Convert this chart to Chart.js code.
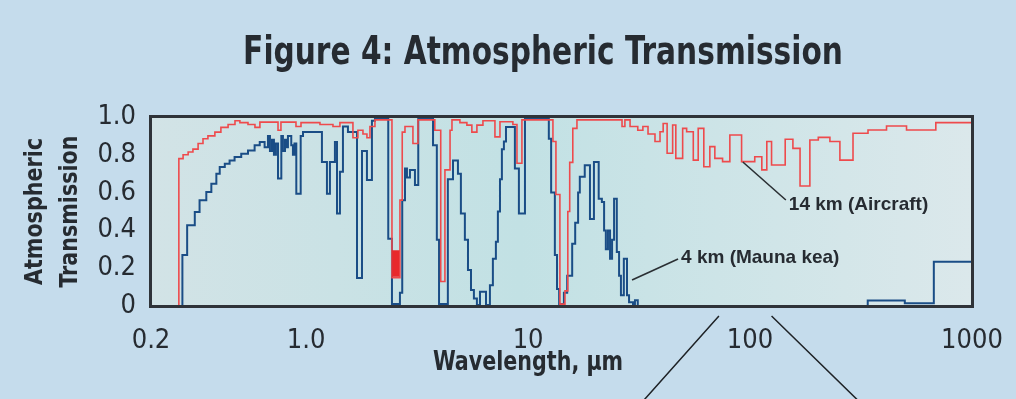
<!DOCTYPE html>
<html>
<head>
<meta charset="utf-8">
<script src="https://cdn.jsdelivr.net/npm/chart.js@4.4.0/dist/chart.umd.min.js"></script>
<style>
  html, body { margin: 0; padding: 0; background: #c5dcec; }
  #wrap { width: 1016px; height: 399px; }
</style>
</head>
<body>
<div id="wrap"><canvas id="chart" width="1016" height="399"></canvas></div>
<script>
// wavelengths (um) where each step starts, and the transmission on that step
const redWave = [0.267, 0.267, 0.279, 0.294, 0.309, 0.326, 0.343, 0.361, 0.388, 0.413, 0.445, 0.478, 0.503, 0.547, 0.588, 0.619, 0.747, 0.770, 0.900, 0.948, 1.154, 1.321, 1.420, 1.625, 1.711, 1.803, 1.879, 1.939, 2.042, 2.436, 2.646, 2.71, 2.788, 3.028, 3.19, 3.80, 4.04, 4.22, 4.45, 4.54, 4.93, 5.30, 5.58, 5.88, 6.26, 7.09, 7.47, 8.54, 8.91, 9.38, 12.94, 13.35, 13.91, 14.66, 15.1, 15.4, 15.9, 16.6, 26.5, 27.3, 28.8, 31.2, 32.9, 34.7, 37.3, 39.3, 40.6, 42.3, 44.8, 46.3, 49.7, 51.8, 55.5, 58.4, 61.9, 65.9, 69.4, 75.2, 81.1, 91.6, 105, 113, 119, 125, 144, 156, 168, 186, 203, 229, 254, 291, 340, 412, 507, 687, 1000];
const redTrans = [0, 0.78, 0.80, 0.815, 0.83, 0.86, 0.885, 0.90, 0.92, 0.945, 0.96, 0.98, 0.97, 0.96, 0.945, 0.973, 0.93, 0.973, 0.95, 0.97, 0.96, 0.95, 0.97, 0.89, 0.93, 0.91, 0.89, 0.95, 0.985, 0.15, 0.56, 0.92, 0.95, 0.86, 0.985, 0.93, 0.13, 0.72, 0.93, 0.985, 0.97, 0.957, 0.92, 0.957, 0.98, 0.895, 0.975, 0.96, 0.755, 0.985, 0.87, 0.59, 0.01, 0.08, 0.5, 0.76, 0.94, 0.985, 0.95, 0.985, 0.95, 0.93, 0.95, 0.91, 0.87, 0.922, 0.966, 0.808, 0.958, 0.781, 0.94, 0.922, 0.772, 0.94, 0.737, 0.843, 0.781, 0.764, 0.905, 0.764, 0.79, 0.72, 0.87, 0.746, 0.882, 0.834, 0.635, 0.878, 0.892, 0.87, 0.772, 0.914, 0.931, 0.952, 0.931, 0.97, 0.97];

// the solid red patch inside the 2.5 um water band
const redPatchWave = [2.44, 2.64];
const redPatchTop = [0.295, 0.295];
const redPatchBottom = 0.155;

const blueWave = [0.277, 0.277, 0.291, 0.315, 0.331, 0.355, 0.374, 0.394, 0.408, 0.430, 0.452, 0.476, 0.510, 0.547, 0.586, 0.618, 0.650, 0.673, 0.687, 0.702, 0.716, 0.731, 0.747, 0.773, 0.786, 0.803, 0.820, 0.828, 0.857, 0.872, 0.886, 0.903, 0.945, 0.968, 1.178, 1.241, 1.280, 1.348, 1.377, 1.420, 1.465, 1.543, 1.695, 1.785, 1.879, 1.979, 2.042, 2.344, 2.436, 2.646, 2.710, 2.788, 2.846, 2.936, 3.092, 3.20, 3.73, 3.88, 3.97, 4.35, 4.59, 4.83, 4.98, 5.19, 5.36, 5.53, 5.70, 5.88, 6.07, 6.46, 6.73, 6.94, 7.16, 7.31, 7.47, 7.62, 7.78, 7.95, 8.72, 9.09, 9.68, 12.4, 12.7, 13.2, 13.5, 13.8, 14.5, 15.0, 15.8, 16.3, 16.8, 17.1, 18.0, 19.0, 19.8, 20.8, 21.5, 22.0, 22.4, 22.9, 23.4, 23.9, 24.4, 25.1, 25.7, 26.2, 27.0, 27.9, 28.5, 29.7, 30.3, 31.2, 339, 498, 673, 1000];
const blueTrans = [0, 0.27, 0.427, 0.497, 0.56, 0.603, 0.647, 0.70, 0.735, 0.753, 0.77, 0.788, 0.805, 0.823, 0.85, 0.868, 0.84, 0.90, 0.82, 0.88, 0.80, 0.86, 0.674, 0.90, 0.82, 0.88, 0.84, 0.90, 0.85, 0.80, 0.86, 0.594, 0.90, 0.92, 0.762, 0.594, 0.762, 0.868, 0.49, 0.71, 0.95, 0.92, 0.148, 0.82, 0.667, 0.98, 0.99, 0.356, 0.01, 0.07, 0.56, 0.727, 0.68, 0.72, 0.64, 0.99, 0.85, 0.35, 0.01, 0.67, 0.77, 0.70, 0.49, 0.35, 0.19, 0.085, 0.04, 0.005, 0.075, 0.005, 0.11, 0.25, 0.34, 0.50, 0.67, 0.83, 0.87, 0.947, 0.727, 0.49, 0.99, 0.885, 0.60, 0.27, 0.09, 0.01, 0.07, 0.16, 0.33, 0.44, 0.60, 0.684, 0.745, 0.46, 0.762, 0.568, 0.55, 0.40, 0.30, 0.40, 0.25, 0.35, 0.568, 0.286, 0.16, 0.057, 0.25, 0.057, 0.02, 0.005, 0.03, 0, 0.029, 0.014, 0.234, 0.234];

const xTickValues = [0.2, 1, 10, 100, 1000];
const xTickLabels = ['0.2', '1.0', '10', '100', '1000'];
const yTickLabels = ['0', '0.2', '0.4', '0.6', '0.8', '1.0'];

const seriesNames = ['14 km (Aircraft)', '4 km (Mauna kea)'];
// where the leader line of each label touches its curve (wavelength, transmission)
const labelAnchorWave = [92.8, 29.4];
const labelAnchorTrans = [0.762, 0.138];

const NARROW = '"DejaVu Sans Condensed", "Liberation Sans Narrow", sans-serif';
const TEXT = '#262b31';
const RED = '#ee4a4c';
const BLUE = '#1a4d86';

const toPoints = (w, t) => w.map((x, i) => ({ x: x, y: t[i] }));

// draws text squeezed horizontally, the original uses a condensed face
function squeezed(ctx, txt, x, y, sx) {
    ctx.save();
    ctx.translate(x, y);
    ctx.scale(sx, 1);
    ctx.fillText(txt, 0, 0);
    ctx.restore();
}

// page + plot backgrounds
const backdrop = {
    id: 'backdrop',
    beforeDraw(chart) {
        const { ctx, chartArea: a } = chart;
        ctx.save();
        ctx.fillStyle = '#c5dcec';
        ctx.fillRect(0, 0, chart.width, chart.height);
        const g = ctx.createLinearGradient(a.left, 0, a.right, 0);
        g.addColorStop(0, '#d2e3e6');
        g.addColorStop(0.45, '#c2e1e4');
        g.addColorStop(1, '#dbe8eb');
        ctx.fillStyle = g;
        ctx.fillRect(a.left, a.top, a.right - a.left, a.bottom - a.top);
        ctx.restore();
    }
};

// frame, titles, labels and the zoom lines under the axis
const decorations = {
    id: 'decorations',
    afterDatasetsDraw(chart) {
        const { ctx, chartArea: a } = chart;
        ctx.save();
        ctx.strokeStyle = '#2f3339';
        ctx.lineWidth = 3;
        ctx.strokeRect(a.left - 0.5, a.top - 0.5, a.right - a.left + 1, a.bottom - a.top + 1);
        ctx.restore();
    },
    afterDraw(chart) {
        const { ctx, chartArea: a, scales } = chart;
        ctx.save();
        ctx.fillStyle = TEXT;

        // main title
        ctx.font = 'bold 39px ' + NARROW;
        ctx.textAlign = 'center';
        ctx.textBaseline = 'alphabetic';
        squeezed(ctx, 'Figure 4: Atmospheric Transmission', 543, 64, 0.845);

        // y axis title, two lines
        ctx.font = 'bold 25px ' + NARROW;
        ctx.textBaseline = 'middle';
        [['Atmospheric', 35], ['Transmission', 70]].forEach(([txt, cx]) => {
            ctx.save();
            ctx.translate(cx, (a.top + a.bottom) / 2);
            ctx.rotate(-Math.PI / 2);
            squeezed(ctx, txt, 0, 0, 0.92);
            ctx.restore();
        });

        // x axis title
        ctx.font = 'bold 27px ' + NARROW;
        squeezed(ctx, 'Wavelength, \u03bcm', 528, 363, 0.85);

        // series labels with leader lines
        ctx.strokeStyle = '#2a2f33';
        ctx.lineWidth = 1.6;
        ctx.font = 'bold 19px "Liberation Sans", Arial, sans-serif';
        ctx.textAlign = 'left';
        const offsets = [[43, 38], [46, -21]];
        seriesNames.forEach((name, i) => {
            const px = scales.x.getPixelForValue(labelAnchorWave[i]);
            const py = scales.y.getPixelForValue(labelAnchorTrans[i]);
            const [dx, dy] = offsets[i];
            ctx.beginPath();
            ctx.moveTo(px, py);
            ctx.lineTo(px + dx, py + dy);
            ctx.stroke();
            ctx.fillText(name, px + dx + 3, py + dy + (i === 0 ? 5 : -1));
        });

        // zoom lines below the 100 um tick
        ctx.strokeStyle = '#1e2226';
        ctx.lineWidth = 1.5;
        const l1 = scales.x.getPixelForValue(72.4), l2 = scales.x.getPixelForValue(125);
        const y0 = a.bottom + 10;
        ctx.beginPath();
        ctx.moveTo(l1, y0);
        ctx.lineTo(l1 - 74 * 1.1, y0 + 83 * 1.1);
        ctx.moveTo(l2, y0);
        ctx.lineTo(l2 + 85 * 1.1, y0 + 83 * 1.1);
        ctx.stroke();
        ctx.restore();
    }
};

new Chart(document.getElementById('chart'), {
    type: 'line',
    data: {
        datasets: [
            {
                label: 'patch',
                data: toPoints(redPatchWave, redPatchTop),
                borderWidth: 0,
                backgroundColor: '#e8282c',
                fill: { value: redPatchBottom },
                pointRadius: 0
            },
            {
                label: seriesNames[0],
                data: toPoints(redWave, redTrans),
                borderColor: RED,
                borderWidth: 1.6,
                stepped: 'before',
                pointRadius: 0,
                fill: false
            },
            {
                label: seriesNames[1],
                data: toPoints(blueWave, blueTrans),
                borderColor: BLUE,
                borderWidth: 2,
                stepped: 'before',
                pointRadius: 0,
                fill: false
            }
        ]
    },
    plugins: [backdrop, decorations],
    options: {
        responsive: false,
        animation: false,
        layout: { padding: { top: 117, right: 44, left: 0, bottom: 0 } },
        plugins: {
            legend: { display: false },
            tooltip: { enabled: false },
            title: { display: false },
            filler: { propagate: false }
        },
        scales: {
            x: {
                type: 'logarithmic',
                min: 0.2,
                max: 1000,
                // invisible tick marks, only there to push the labels down
                grid: { display: true, drawOnChartArea: false, drawTicks: true, tickLength: 6, color: 'rgba(0,0,0,0)' },
                border: { display: false },
                afterBuildTicks: s => { s.ticks = xTickValues.map(v => ({ value: v })); },
                afterFit: s => { s.height = 93; },
                ticks: {
                    autoSkip: false,
                    maxRotation: 0,
                    padding: 13,
                    color: TEXT,
                    font: { family: NARROW, size: 27 },
                    callback: (v, i) => xTickLabels[i]
                }
            },
            y: {
                min: 0,
                max: 1,
                grid: { display: false, drawTicks: false },
                border: { display: false },
                afterFit: s => { s.width = 151; },
                ticks: {
                    stepSize: 0.2,
                    padding: 15,
                    color: TEXT,
                    font: { family: NARROW, size: 27 },
                    callback: (v, i) => yTickLabels[i]
                }
            }
        }
    }
});
</script>
</body>
</html>
